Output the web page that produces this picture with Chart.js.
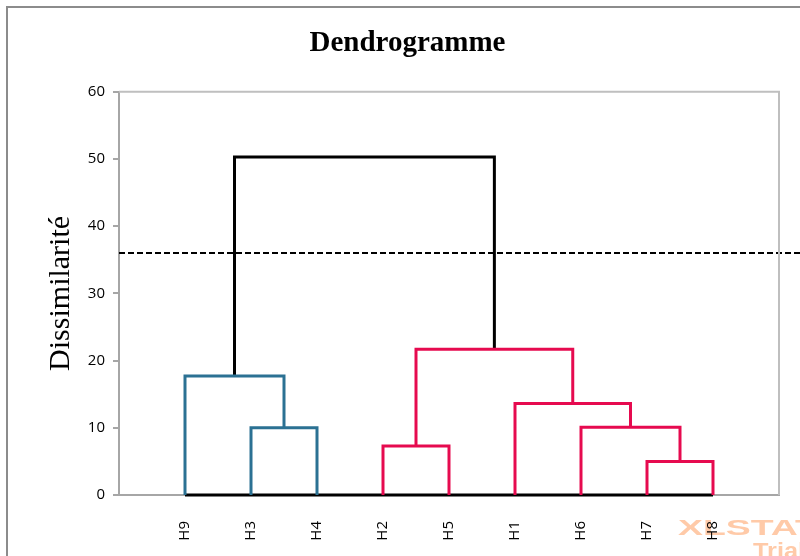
<!DOCTYPE html>
<html>
<head>
<meta charset="utf-8">
<title>Dendrogramme</title>
<script src="https://cdn.jsdelivr.net/npm/chart.js@4.4.1/dist/chart.umd.min.js"></script>
<style>
  body { margin: 0; background: #fff; }
  #wrap { width: 800px; height: 556px; position: relative; }
</style>
</head>
<body>
<div id="wrap"><canvas id="dendro"></canvas></div>
<script>
// leaves in the order they are drawn along the axis
var leafNames = ['H9', 'H3', 'H4', 'H2', 'H5', 'H1', 'H6', 'H7', 'H8'];
var leafCluster = [1, 1, 1, 2, 2, 2, 2, 2, 2];

// merges, like a linkage table: node ids 0..8 are leaves, new nodes get 9, 10, ...
var mergeA      = [7, 3, 1, 6, 5, 0, 10, 14];
var mergeB      = [8, 4, 2, 9, 12, 11, 13, 15];
var mergeHeight = [5.0, 7.3, 10.0, 10.1, 13.6, 17.7, 21.7, 50.3];

var cutLevel = 36;
var yTicks = [0, 10, 20, 30, 40, 50, 60];

var clusterColors = { 1: '#2b7193', 2: '#e60a4f' };

// node positions: x of a leaf is its slot, x of a merge is the middle of its two children
var nodeX = leafNames.map(function(n, i){ return i + 1; });
var nodeY = leafNames.map(function(){ return 0; });
var nodeCluster = leafCluster.slice();
var datasets = [];

for (var i = 0; i < mergeA.length; i++){
  var a = mergeA[i], b = mergeB[i], h = mergeHeight[i];
  var col = h < cutLevel && nodeCluster[a] === nodeCluster[b] ? clusterColors[nodeCluster[a]] : '#000000';
  datasets.push({
    data: [
      {x: nodeX[a], y: nodeY[a]},
      {x: nodeX[a], y: h},
      {x: nodeX[b], y: h},
      {x: nodeX[b], y: nodeY[b]}
    ],
    borderColor: col,
    borderWidth: 3,
    borderJoinStyle: 'miter',
    showLine: true,
    pointRadius: 0
  });
  nodeX.push((nodeX[a] + nodeX[b]) / 2);
  nodeY.push(h);
  nodeCluster.push(nodeCluster[a] === nodeCluster[b] ? nodeCluster[a] : 0);
}

// black base line under the leaves
datasets.push({
  data: [{x: 1, y: 0}, {x: leafNames.length, y: 0}],
  borderColor: '#000000', borderWidth: 3, showLine: true, pointRadius: 0, clip: false
});

// truncation line
datasets.push({
  data: [{x: 0, y: cutLevel}, {x: 10.35, y: cutLevel}],
  borderColor: '#000000', borderWidth: 2, borderDash: [6, 3],
  showLine: true, pointRadius: 0, clip: false
});

var framePlugin = {
  id: 'frame',
  beforeDraw: function(chart){
    var ctx = chart.ctx;
    ctx.save();
    ctx.fillStyle = '#fff';
    ctx.fillRect(0, 0, chart.width, chart.height);
    ctx.strokeStyle = '#8c8c8c';
    ctx.lineWidth = 2;
    ctx.beginPath();
    ctx.moveTo(7, chart.height);
    ctx.lineTo(7, 7);
    ctx.lineTo(chart.width, 7);
    ctx.stroke();

    // watermark
    ctx.fillStyle = '#ffcaa8';
    ctx.textBaseline = 'alphabetic';
    ctx.font = 'bold 22px "Liberation Sans"';
    ctx.save();
    ctx.translate(678, 535);
    ctx.scale(1.7, 1);
    ctx.fillText('XLSTAT', 0, 0);
    ctx.restore();
    ctx.font = 'bold 22px "Liberation Sans"';
    ctx.save();
    ctx.translate(753, 558);
    ctx.scale(1.15, 1);
    ctx.fillText('Trial', 0, 0);
    ctx.restore();
    ctx.restore();
  },
  afterDatasetsDraw: function(chart){
    var a = chart.chartArea, ctx = chart.ctx;
    ctx.save();
    ctx.strokeStyle = '#bfbfbf';
    ctx.lineWidth = 2;
    ctx.beginPath();
    ctx.moveTo(a.left, a.top);
    ctx.lineTo(a.right, a.top);
    ctx.lineTo(a.right, a.bottom);
    ctx.stroke();
    ctx.restore();
  }
};

new Chart('dendro', {
  type: 'scatter',
  data: { datasets: datasets },
  plugins: [framePlugin],
  options: {
    responsive: true,
    maintainAspectRatio: false,
    animation: false,
    layout: { padding: { left: 36, right: 21, top: 0, bottom: 0 } },
    plugins: {
      legend: { display: false },
      tooltip: { enabled: false },
      title: {
        display: true,
        text: 'Dendrogramme',
        color: '#000',
        font: { family: '"Liberation Serif"', size: 29, weight: 'bold' },
        padding: { top: 26, bottom: 31 }
      }
    },
    scales: {
      x: {
        type: 'linear',
        min: 0,
        max: 10,
        grid: { display: false },
        border: { color: '#a6a6a6', width: 2 },
        afterBuildTicks: function(scale){
          scale.ticks = leafNames.map(function(n, i){ return {value: i + 1}; });
        },
        afterFit: function(scale){ scale.height = 61; },
        ticks: {
          autoSkip: false,
          minRotation: 90,
          maxRotation: 90,
          padding: 18,
          color: '#000',
          font: { family: '"Open Sans"', size: 15 },
          callback: function(v){ return leafNames[v - 1]; }
        }
      },
      y: {
        min: 0,
        max: 60,
        afterBuildTicks: function(scale){
          scale.ticks = yTicks.map(function(v){ return {value: v}; });
        },
        afterFit: function(scale){ scale.width = 83; },
        grid: { drawOnChartArea: false, drawTicks: true, tickLength: 6, color: '#a6a6a6', lineWidth: 2 },
        border: { color: '#a6a6a6', width: 2 },
        ticks: {
          padding: 8,
          color: '#000',
          font: { family: '"Open Sans"', size: 15 }
        },
        title: {
          display: true,
          text: 'Dissimilarité',
          color: '#000',
          font: { family: '"Liberation Serif"', size: 30 },
          padding: { top: 7, bottom: 0 }
        }
      }
    }
  }
});
</script>
</body>
</html>
